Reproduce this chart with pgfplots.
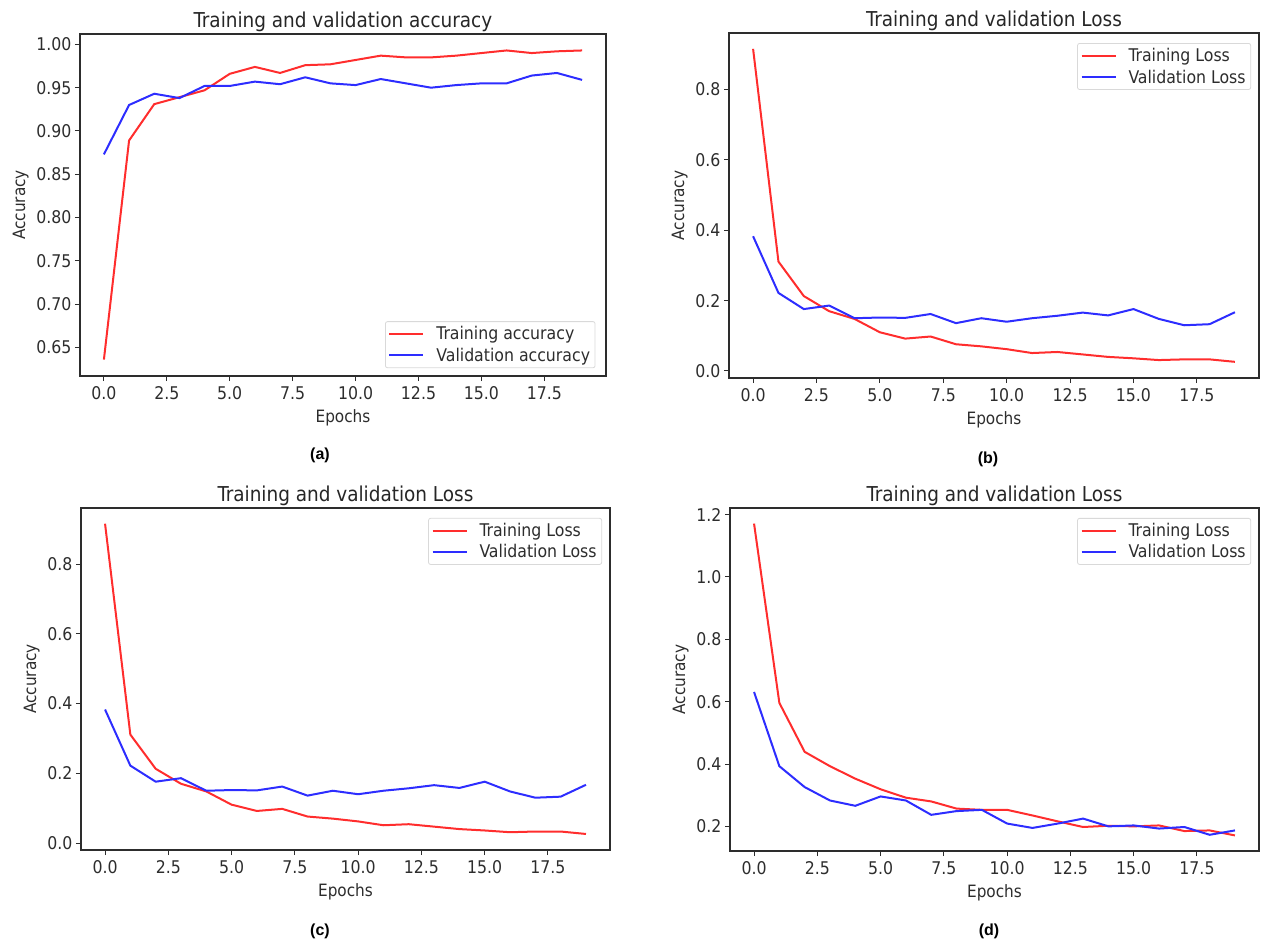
\documentclass[border=0pt]{standalone}
\usepackage{fontspec}
\setmainfont{DejaVu Sans Condensed}
\newfontfamily\capfont{Liberation Sans}
\usepackage{pgfplots}
\pgfplotsset{compat=1.18}
\definecolor{mred}{RGB}{255,45,45}
\definecolor{mblue}{RGB}{45,45,255}
\definecolor{axgray}{RGB}{45,45,45}

\pgfplotstableread{
ep trainacc valacc
0 0.636 0.873
1 0.889 0.930
2 0.931 0.943
3 0.939 0.938
4 0.947 0.952
5 0.966 0.952
6 0.974 0.957
7 0.967 0.954
8 0.976 0.962
9 0.977 0.955
10 0.982 0.953
11 0.987 0.960
12 0.985 0.955
13 0.985 0.950
14 0.987 0.953
15 0.990 0.955
16 0.993 0.955
17 0.990 0.964
18 0.992 0.967
19 0.993 0.959
}\dataA

\pgfplotstableread{
ep trainloss valloss
0 0.916 0.383
1 0.311 0.222
2 0.213 0.176
3 0.170 0.186
4 0.148 0.150
5 0.110 0.152
6 0.092 0.151
7 0.098 0.162
8 0.076 0.136
9 0.070 0.150
10 0.062 0.140
11 0.051 0.150
12 0.054 0.157
13 0.047 0.166
14 0.040 0.158
15 0.036 0.176
16 0.031 0.148
17 0.033 0.130
18 0.033 0.133
19 0.026 0.167
}\dataB

\pgfplotstableread{
ep trainloss valloss
0 0.916 0.383
1 0.311 0.222
2 0.213 0.176
3 0.170 0.186
4 0.148 0.150
5 0.110 0.152
6 0.092 0.151
7 0.098 0.162
8 0.076 0.136
9 0.070 0.150
10 0.062 0.140
11 0.051 0.150
12 0.054 0.157
13 0.047 0.166
14 0.040 0.158
15 0.036 0.176
16 0.031 0.148
17 0.033 0.130
18 0.033 0.133
19 0.026 0.167
}\dataC

\pgfplotstableread{
ep trainloss valloss
0 1.171 0.631
1 0.596 0.393
2 0.439 0.326
3 0.393 0.283
4 0.353 0.266
5 0.319 0.296
6 0.292 0.283
7 0.280 0.237
8 0.257 0.249
9 0.253 0.253
10 0.253 0.209
11 0.235 0.195
12 0.216 0.209
13 0.198 0.225
14 0.202 0.200
15 0.200 0.203
16 0.203 0.193
17 0.185 0.198
18 0.187 0.173
19 0.171 0.187
}\dataD

\pgfplotsset{mpl/.style={
  scale only axis,
  axis line style={axgray, line width=1.3pt},
  tick align=outside, tick pos=left,
  major tick length=5pt,
  every tick/.style={axgray, line width=1pt},
  xmin=-0.95, xmax=19.95,
  xtick={0,2.5,5,7.5,10,12.5,15,17.5},
  /pgf/number format/assume math mode=true,
  xticklabel style={/pgf/number format/fixed, /pgf/number format/fixed zerofill, /pgf/number format/precision=1, yshift=-2pt},
  ticklabel style={font=\fontsize{17.5}{20}\selectfont, text=axgray},
  label style={font=\fontsize{17}{20}\selectfont, text=axgray},
  xlabel style={yshift=-3pt},
  ylabel style={yshift=1pt},
  title style={font=\fontsize{20.5}{23}\selectfont, text=black!85, yshift=-7pt},
  xlabel={Epochs}, ylabel={Accuracy},
  legend style={font=\fontsize{17.5}{20}\selectfont, draw=black!15, rounded corners=2pt, line width=0.8pt, inner xsep=3pt, inner ysep=3pt, row sep=2.5pt, column sep=10pt, text=axgray, nodes={inner sep=2pt}},
  legend cell align=left,
  legend image code/.code={\draw[#1, line width=2pt] (0pt,0pt) -- (34pt,0pt);},
  every axis plot/.append style={line width=2pt, no markers},
}}

\begin{document}
\begin{tikzpicture}
% (a)
\begin{axis}[mpl, at={(80pt,-34pt)}, anchor=north west, width=526pt, height=342pt,
  title={Training and validation accuracy},
  ymin=0.617, ymax=1.012,
  ytick={0.65,0.70,0.75,0.80,0.85,0.90,0.95,1.00},
  yticklabel style={/pgf/number format/fixed, /pgf/number format/fixed zerofill, /pgf/number format/precision=2},
  legend style={at={(0.98,0.023)}, anchor=south east}]
\addplot[mred] table[x=ep, y=trainacc] {\dataA};
\addlegendentry{Training accuracy}
\addplot[mblue] table[x=ep, y=valacc] {\dataA};
\addlegendentry{Validation accuracy}
\end{axis}
% (b)
\begin{axis}[mpl, at={(729pt,-33pt)}, anchor=north west, width=530pt, height=345pt,
  title={Training and validation Loss},
  ymin=-0.02, ymax=0.961,
  ytick={0,0.2,0.4,0.6,0.8},
  yticklabel style={/pgf/number format/fixed, /pgf/number format/fixed zerofill, /pgf/number format/precision=1},
  legend style={at={(0.985,0.971)}, anchor=north east}]
\addplot[mred] table[x=ep, y=trainloss] {\dataB};
\addlegendentry{Training Loss}
\addplot[mblue] table[x=ep, y=valloss] {\dataB};
\addlegendentry{Validation Loss}
\end{axis}
% (c)
\begin{axis}[mpl, at={(81pt,-508pt)}, anchor=north west, width=529pt, height=342pt,
  title={Training and validation Loss},
  ymin=-0.02, ymax=0.961,
  ytick={0,0.2,0.4,0.6,0.8},
  yticklabel style={/pgf/number format/fixed, /pgf/number format/fixed zerofill, /pgf/number format/precision=1},
  legend style={at={(0.985,0.971)}, anchor=north east}]
\addplot[mred] table[x=ep, y=trainloss] {\dataC};
\addlegendentry{Training Loss}
\addplot[mblue] table[x=ep, y=valloss] {\dataC};
\addlegendentry{Validation Loss}
\end{axis}
% (d)
\begin{axis}[mpl, at={(730pt,-508pt)}, anchor=north west, width=529pt, height=343pt,
  title={Training and validation Loss},
  ymin=0.121, ymax=1.221,
  ytick={0.2,0.4,0.6,0.8,1.0,1.2},
  yticklabel style={/pgf/number format/fixed, /pgf/number format/fixed zerofill, /pgf/number format/precision=1},
  legend style={at={(0.985,0.971)}, anchor=north east}]
\addplot[mred] table[x=ep, y=trainloss] {\dataD};
\addlegendentry{Training Loss}
\addplot[mblue] table[x=ep, y=valloss] {\dataD};
\addlegendentry{Validation Loss}
\end{axis}
\node[font=\capfont\bfseries\fontsize{16}{18}\selectfont] at (320pt,-455pt) {(a)};
\node[font=\capfont\bfseries\fontsize{16}{18}\selectfont] at (988pt,-459pt) {(b)};
\node[font=\capfont\bfseries\fontsize{16}{18}\selectfont] at (320pt,-931pt) {(c)};
\node[font=\capfont\bfseries\fontsize{16}{18}\selectfont] at (989pt,-931pt) {(d)};
\pgfresetboundingbox
\path[use as bounding box] (0pt,0pt) rectangle (1262pt,-943pt);
\end{tikzpicture}
\end{document}
